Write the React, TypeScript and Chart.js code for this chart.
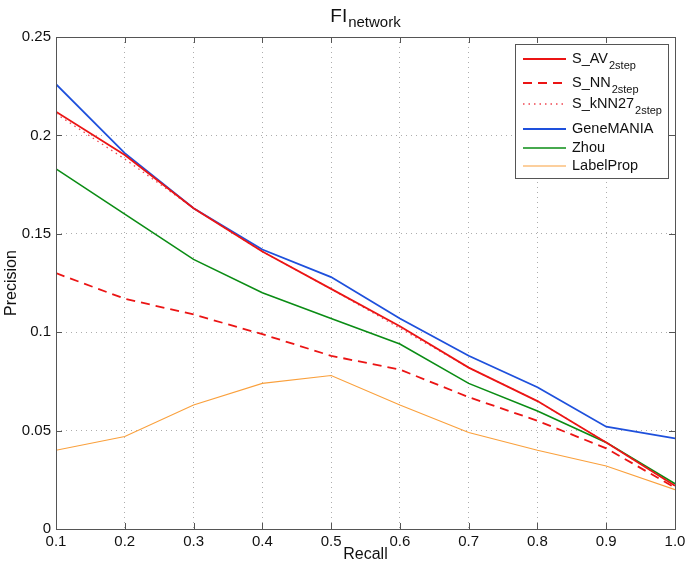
import React, { useEffect, useRef } from "react";
import { Chart, registerables } from "chart.js";

Chart.register(...registerables);

const recall = [0.1, 0.2, 0.3, 0.4, 0.5, 0.6, 0.7, 0.8, 0.9, 1.0];
const sAV = [0.212, 0.190, 0.163, 0.141, 0.122, 0.103, 0.082, 0.065, 0.044, 0.022];
const sNN = [0.130, 0.117, 0.109, 0.099, 0.088, 0.081, 0.067, 0.055, 0.041, 0.021];
const sKNN27 = [0.211, 0.188, 0.163, 0.141, 0.122, 0.102, 0.082, 0.065, 0.044, 0.022];
const geneMANIA = [0.226, 0.191, 0.163, 0.142, 0.128, 0.107, 0.088, 0.072, 0.052, 0.046];
const zhou = [0.183, 0.160, 0.137, 0.120, 0.107, 0.094, 0.074, 0.060, 0.044, 0.023];
const labelProp = [0.040, 0.047, 0.063, 0.074, 0.078, 0.063, 0.049, 0.040, 0.032, 0.020];

const xTicks = [0.1, 0.2, 0.3, 0.4, 0.5, 0.6, 0.7, 0.8, 0.9, 1.0];
const yTicks = [0, 0.05, 0.1, 0.15, 0.2, 0.25];

const FONT = '"Liberation Sans", Arial, Helvetica, sans-serif';

type Series = { main: string; sub: string; data: number[]; color: string; width: number; dash: number[] };

const series: Series[] = [
  { main: "S_AV", sub: "2step", data: sAV, color: "rgb(235,20,20)", width: 1.8, dash: [] },
  { main: "S_NN", sub: "2step", data: sNN, color: "rgb(235,20,20)", width: 1.8, dash: [9, 6] },
  { main: "S_kNN27", sub: "2step", data: sKNN27, color: "rgb(240,70,80)", width: 1.3, dash: [1.5, 4] },
  { main: "GeneMANIA", sub: "", data: geneMANIA, color: "rgb(30,80,220)", width: 1.8, dash: [] },
  { main: "Zhou", sub: "", data: zhou, color: "rgb(10,140,20)", width: 1.6, dash: [] },
  { main: "LabelProp", sub: "", data: labelProp, color: "rgb(250,160,60)", width: 1.1, dash: [] },
];

const decor = {
  id: "decor",
  afterDraw(chart: any) {
    const ctx = chart.ctx as CanvasRenderingContext2D;
    const { left, right, top, bottom } = chart.chartArea;
    const xs = chart.scales.x;
    const ys = chart.scales.y;
    ctx.save();
    // box
    ctx.strokeStyle = "#555";
    ctx.lineWidth = 1;
    ctx.setLineDash([]);
    ctx.strokeRect(Math.round(left) + 0.5, Math.round(top) + 0.5, Math.round(right - left), Math.round(bottom - top));
    // inner ticks
    const tl = 6;
    ctx.beginPath();
    xTicks.forEach((v) => {
      const px = Math.round(xs.getPixelForValue(v)) + 0.5;
      ctx.moveTo(px, bottom);
      ctx.lineTo(px, bottom - tl);
      ctx.moveTo(px, top);
      ctx.lineTo(px, top + tl);
    });
    yTicks.forEach((v) => {
      const py = Math.round(ys.getPixelForValue(v)) + 0.5;
      ctx.moveTo(left, py);
      ctx.lineTo(left + tl, py);
      ctx.moveTo(right, py);
      ctx.lineTo(right - tl, py);
    });
    ctx.stroke();

    // title
    ctx.fillStyle = "#111";
    ctx.textBaseline = "alphabetic";
    const t1 = "FI";
    ctx.font = `19px ${FONT}`;
    const w1 = ctx.measureText(t1).width;
    ctx.font = `15px ${FONT}`;
    const w2 = ctx.measureText("network").width;
    const cx = (left + right) / 2;
    const sx = cx - (w1 + w2 + 1) / 2;
    ctx.textAlign = "left";
    ctx.font = `19px ${FONT}`;
    ctx.fillText(t1, sx, 22);
    ctx.font = `15px ${FONT}`;
    ctx.fillText("network", sx + w1 + 1, 27);

    // axis titles
    ctx.font = `16px ${FONT}`;
    ctx.textAlign = "center";
    ctx.fillText("Recall", cx, 559);
    ctx.save();
    ctx.translate(16, (top + bottom) / 2);
    ctx.rotate(-Math.PI / 2);
    ctx.fillText("Precision", 0, 0);
    ctx.restore();

    // legend
    const bx = 515.5, by = 44.5, bw = 153, bh = 134;
    ctx.fillStyle = "#fff";
    ctx.fillRect(bx, by, bw, bh);
    ctx.strokeStyle = "#555";
    ctx.lineWidth = 1;
    ctx.strokeRect(bx, by, bw, bh);
    const rows = [59, 83, 104, 129, 148, 166];
    series.forEach((s, i) => {
      const y = rows[i];
      ctx.beginPath();
      ctx.strokeStyle = s.color;
      ctx.lineWidth = s.width;
      ctx.setLineDash(s.dash);
      ctx.moveTo(523, y);
      ctx.lineTo(566, y);
      ctx.stroke();
      ctx.setLineDash([]);
      ctx.fillStyle = "#111";
      ctx.textAlign = "left";
      ctx.textBaseline = "middle";
      ctx.font = `14.5px ${FONT}`;
      ctx.fillText(s.main, 572, y);
      if (s.sub) {
        const mw = ctx.measureText(s.main).width;
        ctx.font = `11px ${FONT}`;
        ctx.fillText(s.sub, 572 + mw + 1, y + 7);
      }
    });
    ctx.restore();
  },
};

export default function App() {
  const ref = useRef<HTMLCanvasElement | null>(null);
  useEffect(() => {
    document.body.style.margin = "0";
    const canvas = ref.current;
    if (!canvas) return;
    const chart = new Chart(canvas, {
      type: "line",
      data: {
        datasets: series.map((s) => ({
          label: s.main + s.sub,
          data: recall.map((r, i) => ({ x: r, y: s.data[i] })),
          borderColor: s.color,
          borderWidth: s.width,
          borderDash: s.dash,
          pointRadius: 0,
          fill: false,
          tension: 0,
        })),
      },
      options: {
        animation: false,
        responsive: false,
        maintainAspectRatio: false,
        layout: { padding: { top: 37, right: 10, left: 0, bottom: 0 } },
        plugins: { legend: { display: false }, title: { display: false }, tooltip: { enabled: false } },
        scales: {
          x: {
            type: "linear",
            min: 0.1,
            max: 1.0,
            afterBuildTicks: (s: any) => {
              s.ticks = xTicks.map((v) => ({ value: v }));
            },
            afterFit: (s: any) => {
              s.height = 38;
              s.paddingLeft = 0;
              s.paddingRight = 0;
            },
            ticks: {
              callback: (v: any) => Number(v).toFixed(1),
              font: { family: FONT, size: 15 },
              color: "#111",
              padding: 4,
              maxRotation: 0,
              autoSkip: false,
            },
            grid: { color: "rgba(0,0,0,0.32)", drawTicks: false, lineWidth: 1 },
            border: { display: false, dash: [1, 4] },
          },
          y: {
            type: "linear",
            min: 0,
            max: 0.25,
            afterBuildTicks: (s: any) => {
              s.ticks = yTicks.map((v) => ({ value: v }));
            },
            afterFit: (s: any) => {
              s.width = 56;
            },
            ticks: {
              callback: (v: any) => String(Number(Number(v).toFixed(2))),
              font: { family: FONT, size: 15 },
              color: "#111",
              padding: 5,
              autoSkip: false,
            },
            grid: { color: "rgba(0,0,0,0.32)", drawTicks: false, lineWidth: 1 },
            border: { display: false, dash: [1, 4] },
          },
        },
      } as any,
      plugins: [decor],
    });
    return () => chart.destroy();
  }, []);
  return <canvas ref={ref} width={685} height={567} style={{ display: "block" }} />;
}
